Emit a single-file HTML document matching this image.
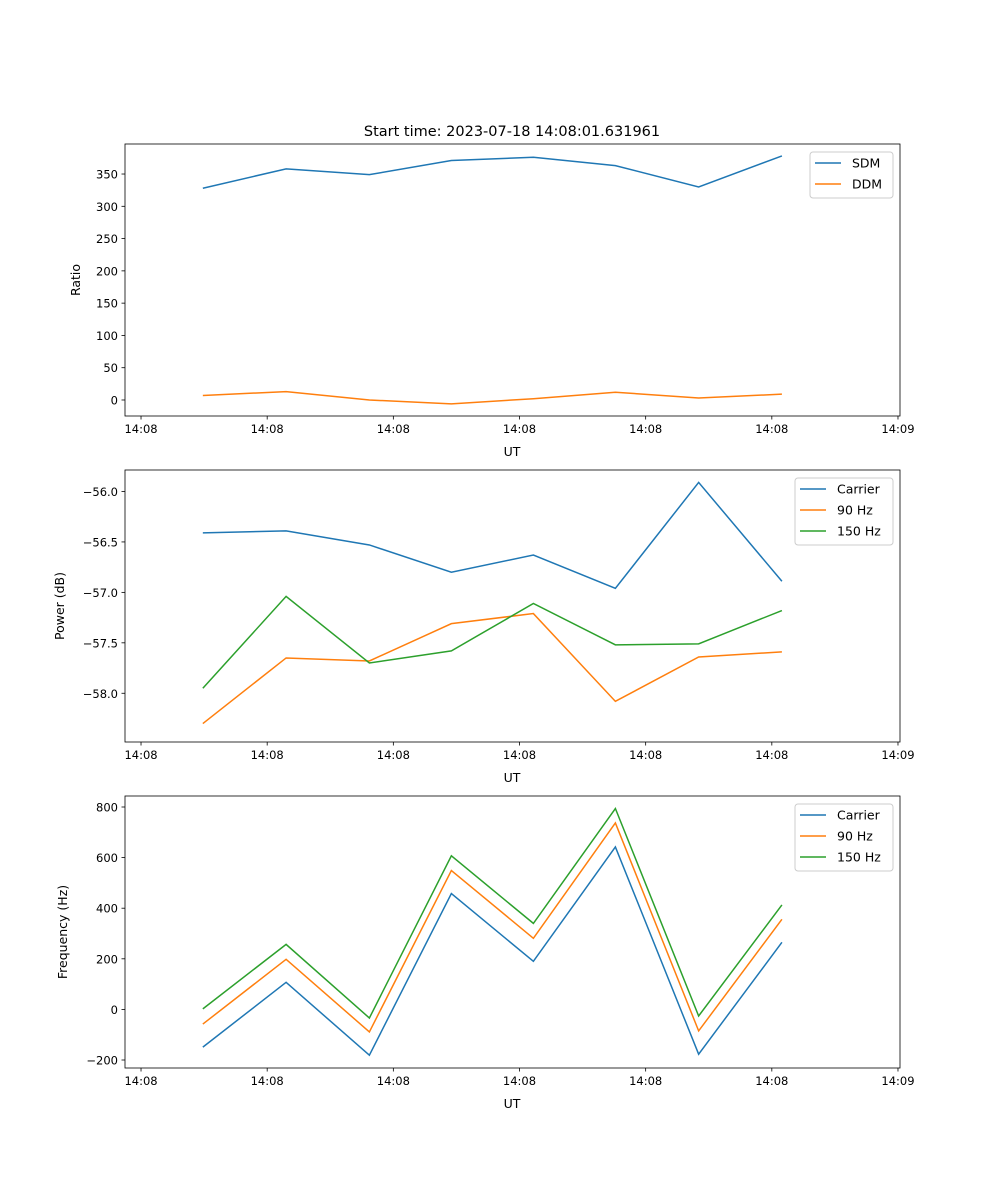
<!DOCTYPE html>
<html><head><meta charset="utf-8"><style>body{margin:0;background:#fff}svg{display:block;font-family:"DejaVu Sans","Liberation Sans",sans-serif}</style></head>
<body>
<svg id="fig" width="1000" height="1200" xmlns="http://www.w3.org/2000/svg">
<text x="512" y="136" font-size="14.5" text-anchor="middle">Start time: 2023-07-18 14:08:01.631961</text>
</svg>
<script>
const times=[4.9,11.5,18.1,24.6,31.1,37.6,44.2,50.8];
const xTickVals=[0,10,20,30,40,50,60];
const xTickLabels=["14:08","14:08","14:08","14:08","14:08","14:08","14:09"];
const sdm=[328,358,349,371,376,363,330,378];
const ddm=[7,13,0,-6,2,12,3,9];
const pCarrier=[-56.41,-56.39,-56.53,-56.80,-56.63,-56.96,-55.91,-56.89];
const p90=[-58.30,-57.65,-57.68,-57.31,-57.21,-58.08,-57.64,-57.59];
const p150=[-57.95,-57.04,-57.70,-57.58,-57.11,-57.52,-57.51,-57.18];
const fCarrier=[-149,107,-181,458,190,642,-177,265];
const f90=[-58,198,-89,549,281,737,-85,356];
const f150=[2,257,-34,607,340,794,-26,413];
const ratioTicks=[0,50,100,150,200,250,300,350];
const powerTicks=[-58.0,-57.5,-57.0,-56.5,-56.0];
const freqTicks=[-200,0,200,400,600,800];
const C=["#1f77b4","#ff7f0e","#2ca02c"];
const svg=document.getElementById('fig');
const NS="http://www.w3.org/2000/svg";
function mk(t,a,p){const e=document.createElementNS(NS,t);for(const k in a)e.setAttribute(k,a[k]);(p||svg).appendChild(e);return e;}
const L=125,R=900,xmin=-1.27,xmax=60.16;
const X=v=>L+(v-xmin)/(xmax-xmin)*(R-L);
function panel(name,top,bot,ymin,ymax,yticks,fmt,ylabel,series,names,legW){
  const Y=v=>bot-(v-ymin)/(ymax-ymin)*(bot-top);
  const g=mk('g',{});
  
  
  series.forEach((s,i)=>{
    const pl=mk('polyline',{points:s.map((v,j)=>X(times[j])+','+Y(v)).join(' '),fill:'none',stroke:C[i],'stroke-width':1.5},g);
    
    
  });
  const fr=mk('rect',{x:L,y:top,width:R-L,height:bot-top,fill:'none',stroke:'#000','stroke-width':0.8},g);
  
  
  xTickVals.forEach((v,i)=>{
    mk('line',{x1:X(v),x2:X(v),y1:bot,y2:bot+3.5,stroke:'#000','stroke-width':0.8},g);
    const t=mk('text',{x:X(v),y:bot+17,'font-size':11.5,'text-anchor':'middle'},g);t.textContent=xTickLabels[i];
    
    
  });
  const xl=mk('text',{x:512,y:bot+40,'font-size':12.5,'text-anchor':'middle'},g);xl.textContent='UT';
  
  
  yticks.forEach(v=>{
    mk('line',{x1:L-3.5,x2:L,y1:Y(v),y2:Y(v),stroke:'#000','stroke-width':0.8},g);
    const t=mk('text',{x:L-7,y:Y(v)+4.5,'font-size':11.5,'text-anchor':'end'},g);t.textContent=fmt(v);
    
    
  });
  const yl=mk('text',{x:0,y:0,'font-size':12.5,'text-anchor':'middle',transform:`translate(${ylabel[1]},${(top+bot)/2}) rotate(-90)`},g);yl.textContent=ylabel[0];
  
  
  const lx=R-7-legW,ly=top+8,lh=names.length*21+4;
  const lg=mk('g',{},g);
  
  
  mk('rect',{x:lx,y:ly,width:legW,height:lh,rx:3,fill:'#fff','fill-opacity':0.8,stroke:'#ccc'},lg);
  names.forEach((n,i)=>{
    const yy=ly+11+i*21;
    mk('line',{x1:lx+5,x2:lx+31,y1:yy,y2:yy,stroke:C[i],'stroke-width':1.5},lg);
    const t=mk('text',{x:lx+42,y:yy+4.5,'font-size':12.5},lg);t.textContent=n;
    
    
  });
}
const m='\u2212';
panel('ratio',144,416,-24.8,396.5,ratioTicks,v=>String(v),['Ratio',80],[sdm,ddm],['SDM','DDM'],83);
panel('power',470,742,-58.483,-55.787,powerTicks,v=>v.toFixed(1).replace('-',m),['Power (dB)',64],[pCarrier,p90,p150],['Carrier','90 Hz','150 Hz'],98);
panel('frequency',796,1068,-231.6,843.5,freqTicks,v=>String(v).replace('-',m),['Frequency (Hz)',67],[fCarrier,f90,f150],['Carrier','90 Hz','150 Hz'],98);
</script>
</body></html>
